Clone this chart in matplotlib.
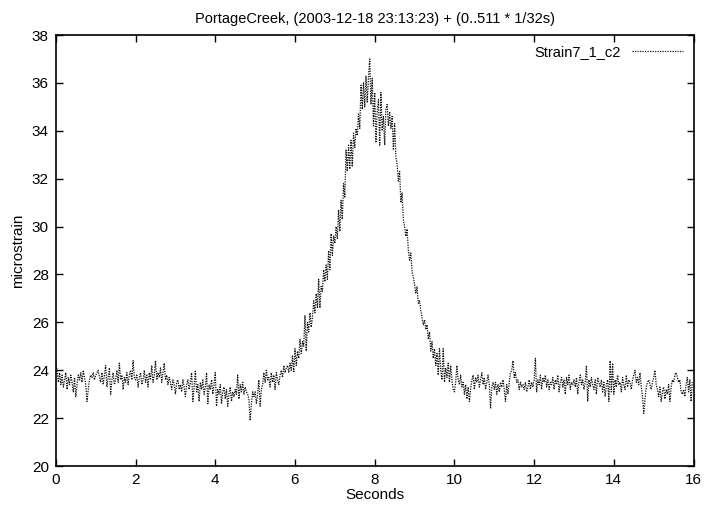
import numpy as np
import matplotlib
matplotlib.use("Agg")
import matplotlib.pyplot as plt

plt.rcParams['font.family'] = ['Liberation Sans', 'DejaVu Sans']

# 512 samples, 32 per second (one row per second)
strain = [
    24.3, 24.0, 23.5, 23.9, 23.4, 23.8, 23.3, 23.6, 23.9, 23.2, 23.7, 23.4, 23.8, 23.5, 23.1, 23.7,
    22.9, 23.4, 23.8, 23.6, 23.9, 23.5, 24.0, 23.7, 23.4, 22.7, 23.2, 23.6, 23.8, 23.7, 23.9, 23.6,
    23.8, 23.9, 24.0, 23.7, 23.5, 23.9, 23.4, 23.8, 24.2, 23.3, 23.7, 24.1, 23.0, 23.6, 23.9, 23.4,
    23.6, 24.0, 23.5, 24.3, 23.6, 23.8, 23.2, 23.7, 23.5, 23.9, 23.4, 23.8, 24.0, 23.6, 24.4, 23.7,
    23.6, 23.8, 23.3, 23.7, 23.9, 23.4, 23.6, 24.0, 23.5, 23.8, 23.3, 23.9, 23.6, 24.2, 23.5, 23.8,
    24.4, 23.6, 23.9, 23.7, 24.1, 23.5, 23.9, 24.3, 23.6, 23.8, 23.4, 23.7, 23.5, 23.2, 23.6, 23.4,
    23.0, 23.5, 23.6, 23.2, 23.4, 23.1, 23.6, 23.3, 22.9, 23.4, 23.6, 23.2, 23.5, 23.9, 22.7, 23.3,
    24.0, 23.1, 23.4, 22.7, 23.5, 23.2, 23.6, 23.0, 23.3, 23.9, 22.6, 23.4, 23.2, 23.6, 23.0, 23.4,
    23.9, 22.5, 23.2, 23.0, 23.4, 22.6, 23.1, 23.3, 22.8, 23.2, 22.5, 23.0, 23.3, 22.7, 23.1, 22.9,
    23.2, 23.0, 23.8, 22.8, 23.4, 23.1, 23.5, 23.0, 23.3, 23.1, 23.0, 22.8, 21.9, 22.6, 23.1, 22.9,
    23.1, 22.6, 23.0, 23.6, 22.5, 23.2, 23.4, 23.9, 23.5, 24.0, 23.6, 23.7, 23.3, 23.9, 23.5, 23.8,
    23.2, 23.9, 23.6, 23.4, 23.8, 24.0, 23.7, 24.2, 23.9, 24.1, 24.2, 23.9, 24.3, 24.0, 24.6, 23.9,
    24.9, 24.2, 24.8, 24.5, 25.3, 24.7, 25.2, 25.0, 26.3, 24.8, 26.0, 25.6, 26.4, 25.8, 26.2, 26.9,
    26.4, 27.2, 26.6, 27.8, 26.6, 27.5, 27.3, 28.2, 27.7, 28.4, 27.8, 29.0, 28.2, 29.7, 28.8, 29.6,
    29.3, 30.0, 29.5, 30.7, 29.8, 31.1, 30.3, 31.8, 31.2, 33.2, 32.3, 33.4, 32.4, 33.6, 32.5, 33.9,
    33.3, 34.1, 33.8, 34.7, 34.1, 35.9, 34.9, 36.0, 35.0, 36.3, 35.2, 36.2, 37.0, 35.1, 36.2, 34.2,
    35.6, 33.5, 34.8, 35.3, 33.4, 35.6, 34.0, 34.6, 33.4, 34.9, 35.1, 34.2, 34.8, 34.1, 34.6, 33.2,
    34.3, 32.9, 32.6, 31.9, 32.3, 31.0, 31.4, 30.3, 30.0, 29.6, 29.9, 29.0, 28.6, 28.9, 28.1, 27.9,
    27.6, 27.2, 27.5, 26.8, 26.9, 26.5, 26.2, 25.9, 26.1, 25.7, 25.9, 25.3, 25.6, 24.8, 25.2, 24.5,
    24.9, 24.2, 24.7, 23.8, 24.9, 24.0, 23.6, 24.9, 23.5, 24.1, 23.7, 24.3, 23.5, 24.2, 23.6, 23.2,
    23.1, 23.5, 24.2, 23.6, 23.4, 23.8, 23.3, 23.5, 23.0, 23.4, 22.8, 23.3, 22.7, 23.2, 23.6, 23.8,
    23.2, 23.7, 23.5, 23.8, 23.3, 23.6, 23.9, 23.4, 23.7, 23.2, 23.5, 23.8, 23.4, 22.4, 23.3, 23.5,
    23.2, 23.5, 23.0, 23.4, 23.1, 23.5, 23.3, 23.6, 23.2, 22.7, 23.4, 23.0, 23.5, 23.9, 24.0, 24.4,
    23.7, 23.9, 23.5, 23.6, 23.2, 23.5, 23.3, 23.4, 23.2, 23.5, 23.1, 23.3, 23.6, 23.2, 23.5, 23.3,
    23.6, 24.5, 23.1, 23.6, 23.4, 23.8, 23.2, 23.7, 23.5, 23.8, 23.3, 23.6, 23.2, 23.5, 23.4, 23.7,
    23.2, 23.6, 23.4, 23.8, 23.1, 23.5, 23.7, 23.3, 23.6, 23.0, 23.7, 23.4, 23.8, 23.2, 23.5, 23.4,
    23.6, 23.3, 23.7, 23.0, 23.5, 23.8, 23.4, 23.6, 23.2, 23.5, 24.2, 22.7, 23.6, 23.3, 23.7, 23.4,
    23.2, 23.6, 23.0, 23.7, 23.5, 23.3, 23.6, 23.1, 23.5, 22.9, 23.4, 23.6, 22.7, 24.4, 23.1, 24.3,
    23.0, 23.6, 23.3, 23.8, 23.4, 23.5, 23.1, 23.7, 23.4, 23.2, 23.8, 23.3, 23.6, 23.5, 23.2, 23.6,
    23.8, 24.0, 23.5, 23.7, 23.4, 23.9, 23.3, 22.9, 22.2, 22.8, 23.3, 23.5, 23.6, 23.4, 23.2, 23.5,
    23.7, 24.0, 23.4, 23.2, 22.9, 23.3, 22.7, 23.1, 23.3, 22.8, 23.2, 23.0, 23.4, 22.7, 23.3, 23.6,
    23.5, 23.8, 23.9, 23.7, 23.5, 23.6, 23.1, 23.0, 23.2, 22.9, 23.4, 23.7, 23.1, 23.6, 22.7, 23.5,
]
sample_rate = 32
xticks = [0, 2, 4, 6, 8, 10, 12, 14, 16]
yticks = [20, 22, 24, 26, 28, 30, 32, 34, 36, 38]

seconds = np.arange(len(strain)) / sample_rate

fig = plt.figure(figsize=(7.07, 5.15), dpi=100)
ax = fig.add_axes([0.079, 0.095, 0.902, 0.837])

ax.plot(seconds, strain, color='#111111', linestyle=(0, (1, 1)), linewidth=0.9,
        label='Strain7_1_c2')

ax.set_xlim(0, 16)
ax.set_ylim(20, 38)
ax.set_xticks(xticks)
ax.set_yticks(yticks)
ax.tick_params(direction='in', top=True, right=True, length=5, width=1,
               labelsize=11, pad=5)
for s in ax.spines.values():
    s.set_linewidth(1.2)

ax.set_title('PortageCreek, (2003-12-18 23:13:23) + (0..511 * 1/32s)', fontsize=10.5, pad=9)
ax.set_xlabel('Seconds', fontsize=11, labelpad=1)
ax.set_ylabel('microstrain', fontsize=11, labelpad=5)

leg = ax.legend(loc='upper right', frameon=False, markerfirst=False, fontsize=10.5,
                handlelength=3.5, borderaxespad=0.3)

fig.savefig('out.png', dpi=100)
